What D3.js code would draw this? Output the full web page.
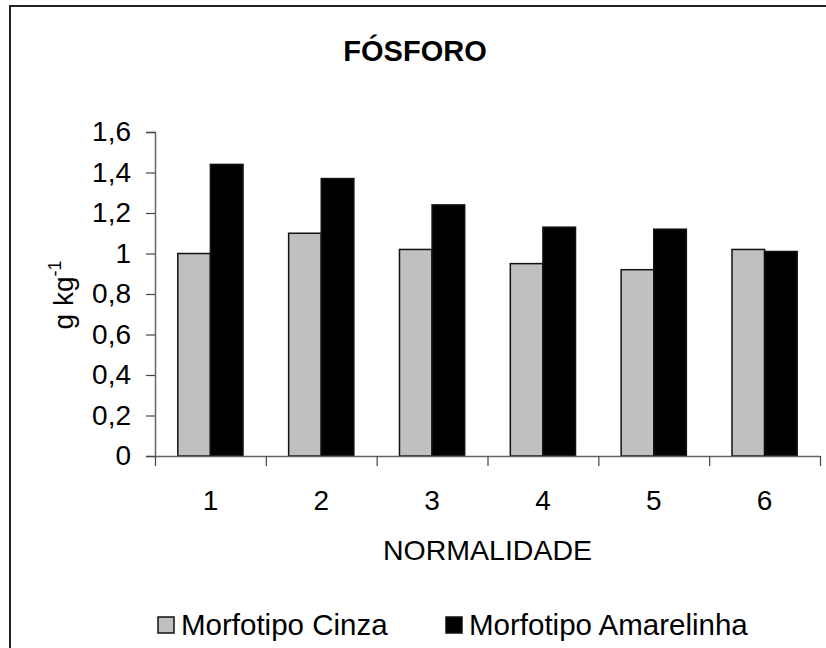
<!DOCTYPE html>
<html>
<head>
<meta charset="utf-8">
<script src="https://cdn.jsdelivr.net/npm/d3@7"></script>
<style>
  body { margin: 0; background: #fff; }
  svg { display: block; font-family: "Liberation Sans", Arial, sans-serif; }
</style>
</head>
<body>
<svg id="chart" width="826" height="648"></svg>
<script>
// DATA //
const categories = ["1", "2", "3", "4", "5", "6"]
const seriesNames = ["Morfotipo Cinza", "Morfotipo Amarelinha"]
const cinza = [1.00, 1.10, 1.02, 0.95, 0.92, 1.02]
const amarelinha = [1.44, 1.37, 1.24, 1.13, 1.12, 1.01]
const yTicks = [0, 0.2, 0.4, 0.6, 0.8, 1.0, 1.2, 1.4, 1.6]
const colors = ["#c0c0c0", "#000000"]

// CHART //
const svg = d3.select("#chart")
const plotLeft = 155, plotRight = 820, plotTop = 132, plotBottom = 456

// chart area border (cropped at right / bottom like the original)
svg.append("rect")
  .attr("x", 10).attr("y", 6)
  .attr("width", 900).attr("height", 800)
  .attr("fill", "none").attr("stroke", "#222").attr("stroke-width", 2)

const y = d3.scaleLinear().domain([0, 1.6]).range([plotBottom, plotTop])
const x0 = d3.scaleBand().domain(categories).range([plotLeft, plotRight])
const x1 = d3.scaleBand().domain(seriesNames).range([0, x0.bandwidth()])
  .paddingInner(0).paddingOuter(0.7)

const fmt = d3.formatLocale({decimal: ",", thousands: ".", grouping: [3], currency: ["", ""]}).format(".1~f")

// y axis
const yAxis = svg.append("g")
  .attr("transform", `translate(${plotLeft},0)`)
  .call(d3.axisLeft(y).tickValues(yTicks).tickFormat(fmt).tickSize(9).tickPadding(15))
yAxis.select(".domain").attr("stroke", "#666").attr("stroke-width", 1.5)
yAxis.selectAll(".tick line").attr("stroke", "#444").attr("stroke-width", 1.2)
yAxis.selectAll("text").attr("font-size", 28).attr("fill", "#000")

// bars
const groups = svg.append("g").selectAll("g")
  .data(categories)
  .enter().append("g")
  .attr("transform", d => `translate(${x0(d)},0)`)

groups.selectAll("rect")
  .data((d, i) => [
    {name: seriesNames[0], value: cinza[i]},
    {name: seriesNames[1], value: amarelinha[i]}
  ])
  .enter().append("rect")
  .attr("x", d => x1(d.name))
  .attr("y", d => y(d.value))
  .attr("width", x1.bandwidth())
  .attr("height", d => plotBottom - y(d.value))
  .attr("fill", (d, i) => colors[i])
  .attr("stroke", "#111")
  .attr("stroke-width", 1.5)

// x axis: ticks between categories, labels at centres
const xEdges = d3.scaleLinear().domain([0, categories.length]).range([plotLeft, plotRight])
const xAxis = svg.append("g")
  .attr("transform", `translate(0,${plotBottom})`)
  .call(d3.axisBottom(xEdges).ticks(categories.length).tickFormat("").tickSize(10).tickSizeOuter(0))
xAxis.select(".domain").attr("stroke", "#666").attr("stroke-width", 1.5)
xAxis.selectAll(".tick line").attr("stroke", "#444").attr("stroke-width", 1.2)

svg.append("g").selectAll("text")
  .data(categories)
  .enter().append("text")
  .attr("x", d => x0(d) + x0.bandwidth() / 2)
  .attr("y", 510)
  .attr("text-anchor", "middle")
  .attr("font-size", 28)
  .text(d => d)

// titles
svg.append("text")
  .attr("x", 415).attr("y", 61)
  .attr("text-anchor", "middle")
  .attr("font-size", 29).attr("font-weight", "bold")
  .text("FÓSFORO")

svg.append("text")
  .attr("x", (plotLeft + plotRight) / 2).attr("y", 560)
  .attr("text-anchor", "middle")
  .attr("font-size", 28.5)
  .text("NORMALIDADE")

const yLabel = svg.append("text")
  .attr("transform", "translate(73,295) rotate(-90)")
  .attr("text-anchor", "middle")
  .attr("font-size", 28)
yLabel.append("tspan").text("g kg")
yLabel.append("tspan").attr("dy", -12).attr("font-size", 18).text("-1")

// legend
const legendX = [158, 446]
const legend = svg.append("g").selectAll("g")
  .data(seriesNames)
  .enter().append("g")
  .attr("transform", (d, i) => `translate(${legendX[i]},617)`)
legend.append("rect")
  .attr("width", 16).attr("height", 16)
  .attr("fill", (d, i) => colors[i])
  .attr("stroke", "#111").attr("stroke-width", 1.5)
legend.append("text")
  .attr("x", 23).attr("y", 18)
  .attr("font-size", 29.5)
  .text(d => d)
</script>
</body>
</html>
